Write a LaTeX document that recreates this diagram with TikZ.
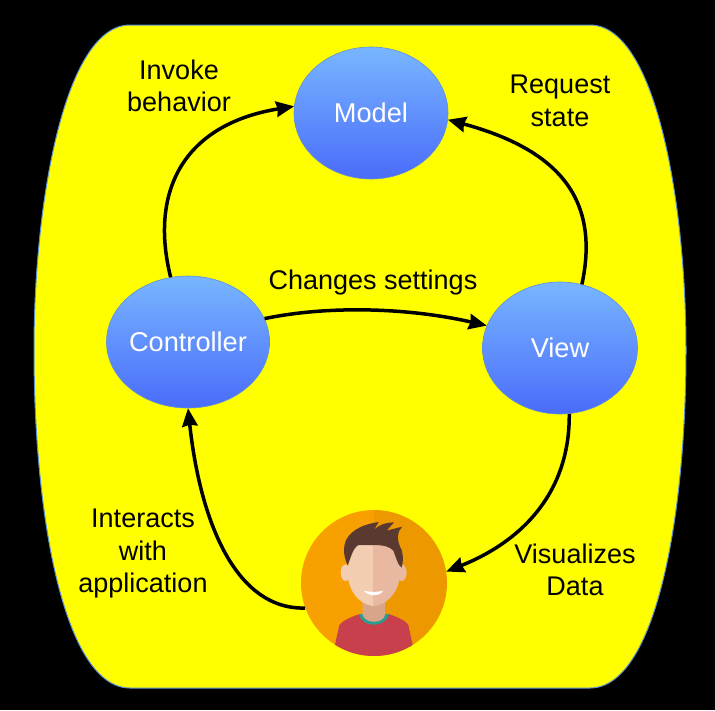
\documentclass[tikz,border=0pt]{standalone}
\usepackage{fontspec}
\setmainfont{Liberation Sans}
\usetikzlibrary{shapes.geometric,arrows.meta}
\definecolor{pureyellow}{RGB}{255,255,0}
\definecolor{outerline}{HTML}{5B8FD0}
\definecolor{ballline}{HTML}{5E8FD8}
\definecolor{balltop}{HTML}{78B6FF}
\definecolor{ballbot}{HTML}{4A6CFA}
\definecolor{orangeL}{HTML}{F7A000}
\definecolor{orangeR}{HTML}{EE9800}
\definecolor{shirt}{HTML}{C8404C}
\definecolor{collar}{HTML}{2A9D8F}
\definecolor{neck}{HTML}{D9A58A}
\definecolor{faceL}{HTML}{F3CDB2}
\definecolor{faceR}{HTML}{E8B9A0}
\definecolor{hair}{HTML}{5A3A30}
\tikzset{
  ball/.style={ellipse,draw=ballline,line width=0.6pt,top color=balltop,bottom color=ballbot,
    minimum height=132pt,inner xsep=-20pt,inner ysep=0pt,text=white,font=\fontsize{27.2}{30}\selectfont},
  lbl/.style={align=center,text=black,font=\fontsize{27}{32.5}\selectfont,inner sep=0pt},
  arr/.style={draw=black,line width=3.5pt,-{Stealth[inset=1.5pt,length=18pt,width=15.5pt]}},
  usercircle/.style={circle,minimum size=146pt,inner sep=0pt}
}
\begin{document}
\begin{tikzpicture}[x=1pt,y=-1pt]
\useasboundingbox (0,0) rectangle (715,710);
\fill[black] (0,0) rectangle (715,710);
% outer shape
\draw[outerline,line width=1pt,fill=pureyellow]
  (130,25) -- (590,25)
  .. controls (655,25) and (686,200) .. (686,350)
  .. controls (686,520) and (655,688) .. (590,688)
  -- (130,688)
  .. controls (65,688) and (34,520) .. (34,350)
  .. controls (34,200) and (65,25) .. (130,25) -- cycle;
% ellipses
\node[ball,minimum width=154pt] (model) at (371,113) {Model};
\node[ball,minimum width=163pt] (ctrl) at (188,342) {Controller};
\node[ball,minimum width=155pt] (view) at (560,348) {View};
% user
\node[usercircle] (user) at (374,583) {};
\begin{scope}
\clip (374,583) circle (73);
\fill[orangeL] (300,505) rectangle (374,660);
\fill[orangeR] (374,505) rectangle (450,660);
\begin{scope}[shift={(280,500)},scale=1/3]
  \fill[shirt] (155,480) -- (178,375) .. controls (190,360) and (220,348) .. (240,342)
    -- (325,342) .. controls (345,348) and (375,360) .. (385,375) -- (408,480) -- cycle;
  \fill[collar] (237,342) .. controls (245,385) and (318,385) .. (327,342) -- cycle;
  \fill[neck] (248,295) -- (315,295) -- (315,345) .. controls (310,372) and (255,372) .. (248,345) -- cycle;
  \fill[faceL] (197,218) ellipse [x radius=15,y radius=25];
  \fill[faceR] (365,218) ellipse [x radius=15,y radius=25];
  \fill[faceL] (281,120) -- (215,130) -- (205,190) -- (205,240)
    .. controls (215,290) and (250,316) .. (281,318) -- cycle;
  \fill[faceR] (281,120) -- (345,130) -- (358,190) -- (358,240)
    .. controls (348,290) and (312,316) .. (281,318) -- cycle;
  \fill[hair] (203,196) .. controls (188,165) and (188,130) .. (206,108)
    .. controls (225,85) and (255,72) .. (296,66)
    -- (282,90) .. controls (295,75) and (315,68) .. (342,67)
    -- (320,92) -- (366,80)
    .. controls (352,95) and (350,115) .. (360,140)
    .. controls (372,160) and (370,185) .. (365,203)
    .. controls (352,195) and (348,170) .. (340,152)
    .. controls (330,140) and (310,135) .. (281,135)
    -- (235,135) .. controls (218,145) and (212,175) .. (203,196) -- cycle;
  \fill[white] (252,272) .. controls (270,277) and (292,277) .. (309,272)
    .. controls (302,290) and (262,290) .. (252,272) -- cycle;
\end{scope}
\end{scope}
% connectors
\draw[arr] (ctrl.105) .. controls (150,195) and (180,125) .. (model.175);
\draw[arr] (view.71) .. controls (600,200) and (560,150) .. (model.-5);
\draw[arr] (ctrl.17) .. controls (330,305) and (410,308) .. (view.163);
\draw[arr] (view.-82) .. controls (570,490) and (525,540) .. (user.9);
\draw[arr] (user.200) .. controls (235,610) and (200,520) .. (ctrl.-90);
% labels
\node[lbl] (l1) at (179,86) {Invoke\\behavior};
\node[lbl] (l2) at (560,101) {Request\\state};
\node[lbl] (l3) at (373,283) {Changes settings};
\node[lbl] (l4) at (143,554) {Interacts\\with\\application};
\node[lbl] (l5) at (575,570) {Visualizes\\Data};
\end{tikzpicture}
\end{document}
